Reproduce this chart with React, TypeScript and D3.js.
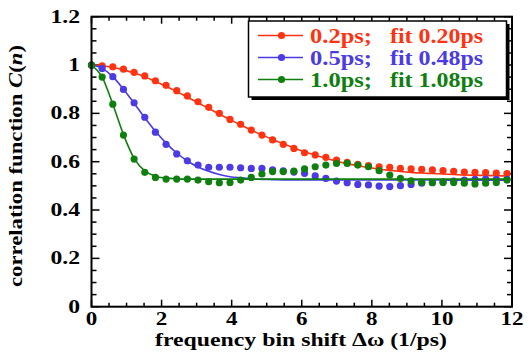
import { scaleLinear, line, curveMonotoneX, range } from 'd3';

const shiftStep = 0.304; // spacing of the frequency bins (1/ps)

const red02 = [1.0, 0.997, 0.993, 0.983, 0.970, 0.955, 0.935, 0.916, 0.894, 0.872, 0.848, 0.825, 0.800, 0.775, 0.755, 0.731, 0.710, 0.690, 0.672, 0.655, 0.637, 0.628, 0.618, 0.607, 0.597, 0.589, 0.584, 0.579, 0.577, 0.572, 0.570, 0.568, 0.566, 0.563, 0.560, 0.557, 0.556, 0.555, 0.553, 0.551];
const blue05 = [1.0, 0.986, 0.952, 0.899, 0.844, 0.784, 0.722, 0.672, 0.632, 0.604, 0.586, 0.577, 0.577, 0.577, 0.575, 0.572, 0.572, 0.566, 0.562, 0.557, 0.552, 0.541, 0.531, 0.520, 0.513, 0.506, 0.504, 0.499, 0.497, 0.501, 0.506, 0.511, 0.514, 0.517, 0.520, 0.524, 0.527, 0.528, 0.527, 0.527];
const green10 = [1.0, 0.950, 0.838, 0.710, 0.611, 0.556, 0.535, 0.528, 0.528, 0.528, 0.524, 0.517, 0.513, 0.514, 0.524, 0.535, 0.549, 0.559, 0.559, 0.561, 0.570, 0.579, 0.586, 0.593, 0.593, 0.586, 0.579, 0.563, 0.545, 0.531, 0.521, 0.515, 0.513, 0.514, 0.514, 0.511, 0.508, 0.511, 0.514, 0.524];

const redFit = [1.0, 0.997, 0.990, 0.980, 0.967, 0.951, 0.932, 0.912, 0.890, 0.867, 0.844, 0.820, 0.797, 0.774, 0.752, 0.731, 0.711, 0.692, 0.674, 0.657, 0.641, 0.627, 0.614, 0.602, 0.592, 0.583, 0.576, 0.569, 0.564, 0.560, 0.556, 0.553, 0.551, 0.549, 0.547, 0.545, 0.544, 0.543, 0.542, 0.541];
const blueFit = [1.0, 0.986, 0.952, 0.900, 0.842, 0.782, 0.726, 0.677, 0.636, 0.603, 0.578, 0.560, 0.547, 0.538, 0.533, 0.529, 0.527, 0.526, 0.525, 0.525, 0.525, 0.525, 0.525, 0.525, 0.525, 0.525, 0.525, 0.524, 0.524, 0.524, 0.524, 0.524, 0.524, 0.524, 0.523, 0.523, 0.523, 0.523, 0.523, 0.523];
const greenFit = [1.0, 0.950, 0.838, 0.712, 0.614, 0.562, 0.540, 0.532, 0.529, 0.528, 0.528, 0.528, 0.528, 0.528, 0.528, 0.528, 0.528, 0.528, 0.528, 0.528, 0.528, 0.528, 0.528, 0.528, 0.528, 0.528, 0.528, 0.528, 0.528, 0.528, 0.528, 0.528, 0.528, 0.528, 0.528, 0.528, 0.528, 0.528, 0.528, 0.528];

const seriesLabels = ['0.2ps;', '0.5ps;', '1.0ps;'];
const fitLabels = ['fit 0.20ps', 'fit 0.48ps', 'fit 1.08ps'];
const xTicks = [0, 2, 4, 6, 8, 10, 12];
const yTicks = [0, 0.2, 0.4, 0.6, 0.8, 1, 1.2];

const series = [
  { data: red02, fit: redFit, color: '#ff3311' },
  { data: blue05, fit: blueFit, color: '#4a3be4' },
  { data: green10, fit: greenFit, color: '#0f7f0f' },
];

const W = 531;
const H = 358;
const plot = { left: 91.5, right: 512, top: 16.7, bottom: 306.7 };
const font = '"Liberation Serif", "Times New Roman", serif';
const stretch = 1.28; // the original text is drawn wider than a normal Times face

function Wide({ x, y, anchor, size, children }: { x: number; y: number; anchor: string; size: number; children: any }) {
  return (
    <g transform={`translate(${x},${y}) scale(${stretch},1)`}>
      <text textAnchor={anchor} fontSize={size}>{children}</text>
    </g>
  );
}

export default function App() {
  const x = scaleLinear().domain([0, 12]).range([plot.left, plot.right]);
  const y = scaleLinear().domain([0, 1.2]).range([plot.bottom, plot.top]);
  const path = line<number>()
    .x((_, i) => x(i * shiftStep))
    .y((d) => y(d))
    .curve(curveMonotoneX);

  const xMinor = range(0, 12.01, 0.5);
  const yMinor = range(0, 1.201, 0.05);

  const legend = { x: 248.5, y: 21, w: 258, h: 76 };

  return (
    <svg width={W} height={H} style={{ position: 'absolute', left: 0, top: 0, background: '#fff' }} fontFamily={font} fontWeight="bold">
      {/* ticks */}
      <g stroke="#000" strokeWidth={1.5}>
        {xMinor.map((t) => {
          const major = Math.abs(t % 2) < 1e-6;
          const len = major ? 7 : 4;
          return (
            <g key={'x' + t}>
              <line x1={x(t)} x2={x(t)} y1={plot.bottom} y2={plot.bottom - len} />
              <line x1={x(t)} x2={x(t)} y1={plot.top} y2={plot.top + len} />
            </g>
          );
        })}
        {yMinor.map((t, i) => {
          const major = i % 4 === 0;
          const len = major ? 8 : 5;
          return (
            <g key={'y' + i}>
              <line x1={plot.left} x2={plot.left + len} y1={y(t)} y2={y(t)} />
              <line x1={plot.right} x2={plot.right - len} y1={y(t)} y2={y(t)} />
            </g>
          );
        })}
      </g>

      {/* series */}
      {series.map((s, k) => (
        <g key={k}>
          <path d={path(s.fit) || ''} fill="none" stroke={s.color} strokeWidth={1.6} />
          {s.data.map((v, i) => (
            <circle key={i} cx={x(i * shiftStep)} cy={y(v)} r={3.6} fill={s.color} />
          ))}
        </g>
      ))}

      {/* frame */}
      <rect x={plot.left} y={plot.top} width={plot.right - plot.left} height={plot.bottom - plot.top} fill="none" stroke="#000" strokeWidth={2} />

      {/* tick labels */}
      {xTicks.map((t) => (
        <Wide key={t} x={x(t)} y={324.5} anchor="middle" size={18}>{t}</Wide>
      ))}
      {yTicks.map((t) => (
        <Wide key={t} x={80} y={y(t) + 6} anchor="end" size={18.5}>{t}</Wide>
      ))}

      {/* axis titles */}
      <text x={155} y={346} fontSize={18} textLength={292} lengthAdjust="spacingAndGlyphs">frequency bin shift Δω (1/ps)</text>
      <text transform="translate(22,287) rotate(-90)" fontSize={19} textLength={242} lengthAdjust="spacingAndGlyphs">
        correlation function <tspan fontStyle="italic">C</tspan>(<tspan fontStyle="italic">n</tspan>)
      </text>

      {/* legend */}
      <rect x={legend.x + 3} y={legend.y + 3} width={legend.w} height={legend.h} fill="#000" />
      <rect x={legend.x} y={legend.y} width={legend.w} height={legend.h} fill="#fff" stroke="#000" strokeWidth={1.5} />
      {series.map((s, k) => {
        const cy = 35.5 + k * 22;
        return (
          <g key={k}>
            <line x1={258} x2={303} y1={cy} y2={cy} stroke={s.color} strokeWidth={1.6} />
            <circle cx={281.5} cy={cy} r={3.6} fill={s.color} />
            <text x={310} y={cy + 7} fontSize={21} fill={s.color} textLength={62} lengthAdjust="spacingAndGlyphs">{seriesLabels[k]}</text>
            <text x={390} y={cy + 7} fontSize={21} fill={s.color} textLength={93} lengthAdjust="spacingAndGlyphs">{fitLabels[k]}</text>
          </g>
        );
      })}
    </svg>
  );
}
